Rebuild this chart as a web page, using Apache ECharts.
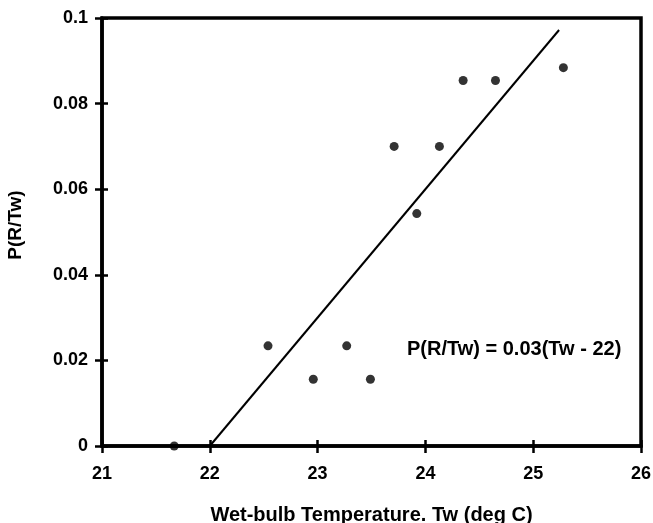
<!DOCTYPE html>
<html>
<head>
<meta charset="utf-8">
<script src="https://cdn.jsdelivr.net/npm/echarts@6/dist/echarts.min.js"></script>
<style>
  html, body { margin: 0; padding: 0; background: #fff; }
  #chart { width: 653px; height: 523px; }
</style>
</head>
<body>
<div id="chart"></div>
<script>
// Observed wet-bulb temperatures (deg C) and rain probability P(R/Tw)
const wetBulbTemp = [21.67, 22.54, 22.96, 23.27, 23.49, 23.71, 23.92, 24.13, 24.35, 24.65, 25.28];
const rainProb    = [0.0,   0.0234, 0.0156, 0.0234, 0.0156, 0.070, 0.0543, 0.070, 0.0854, 0.0854, 0.0884];

// Fitted relation P(R/Tw) = 0.03 (Tw - 22), drawn over this Tw range
const fitSlope = 0.03;
const fitOrigin = 22;
const fitRange = [22, 25.24];

const xTicks = { min: 21, max: 26, interval: 1 };
const yTicks = { min: 0, max: 0.1, interval: 0.02 };

const points = wetBulbTemp.map((t, i) => [t, rainProb[i]]);
const fitLine = fitRange.map(t => [t, fitSlope * (t - fitOrigin)]);

const FONT = '"Liberation Sans", Arial, sans-serif';
const INK = '#000';

// Plot frame
const W = 653, H = 523;
const G = { left: 102, right: 12, top: 18, bottom: 77 };
const plotW = W - G.left - G.right;
const plotH = H - G.top - G.bottom;

const chart = echarts.init(document.getElementById('chart'), null, { renderer: 'canvas' });

const tickStyle = { color: INK, width: 2.5 };

chart.setOption({
  animation: false,
  backgroundColor: '#fff',
  grid: {
    ...G,
    outerBoundsMode: 'none',
    containLabel: false,
    show: true, borderColor: INK, borderWidth: 3.5, backgroundColor: 'transparent'
  },
  xAxis: [
    {
      type: 'value', position: 'bottom', ...xTicks,
      axisLine: { show: true, onZero: false, lineStyle: { color: INK, width: 3.5 } },
      axisTick: { show: true, inside: false, length: 7, lineStyle: tickStyle },
      axisLabel: { color: INK, fontFamily: FONT, fontWeight: 'bold', fontSize: 18, margin: 19 },
      splitLine: { show: false },
      name: 'Wet-bulb Temperature. Tw (deg C)',
      nameLocation: 'middle', nameGap: 59,
      nameTextStyle: { color: INK, fontFamily: FONT, fontWeight: 'bold', fontSize: 20 }
    },
    {
      // companion axis laid onto the bottom edge so its ticks point into the plot
      type: 'value', position: 'top', offset: -plotH, ...xTicks,
      axisLine: { show: false, onZero: false },
      axisTick: { show: true, inside: false, length: 6, lineStyle: tickStyle },
      axisLabel: { show: false },
      splitLine: { show: false }
    }
  ],
  yAxis: [
    {
      type: 'value', position: 'left', ...yTicks,
      axisLine: { show: true, onZero: false, lineStyle: { color: INK, width: 3.5 } },
      axisTick: { show: true, inside: false, length: 7, lineStyle: tickStyle },
      axisLabel: { color: INK, fontFamily: FONT, fontWeight: 'bold', fontSize: 18, margin: 14 },
      splitLine: { show: false }
    },
    {
      // companion axis laid onto the left edge so its ticks point into the plot
      type: 'value', position: 'right', offset: -plotW, ...yTicks,
      axisLine: { show: false, onZero: false },
      axisTick: { show: true, inside: false, length: 6, lineStyle: tickStyle },
      axisLabel: { show: false },
      splitLine: { show: false }
    }
  ],
  series: [
    {
      name: 'fit', type: 'line', data: fitLine,
      xAxisIndex: 0, yAxisIndex: 0,
      showSymbol: false, symbol: 'none',
      lineStyle: { color: INK, width: 2 },
      z: 2
    },
    {
      name: 'observed', type: 'scatter', data: points,
      xAxisIndex: 0, yAxisIndex: 0,
      symbol: 'circle', symbolSize: 9,
      itemStyle: { color: INK },
      clip: false,
      z: 3
    }
  ],
  graphic: [
    {
      type: 'text', x: 16, y: 225, rotation: Math.PI / 2,
      style: {
        text: 'P(R/Tw)', fill: INK, font: 'bold 19px ' + FONT,
        align: 'center', verticalAlign: 'middle'
      }
    },
    {
      type: 'text', left: 407, top: 339,
      style: {
        text: 'P(R/Tw) = 0.03(Tw - 22)',
        fill: INK, font: 'bold 20px ' + FONT
      }
    }
  ]
});
</script>
</body>
</html>
